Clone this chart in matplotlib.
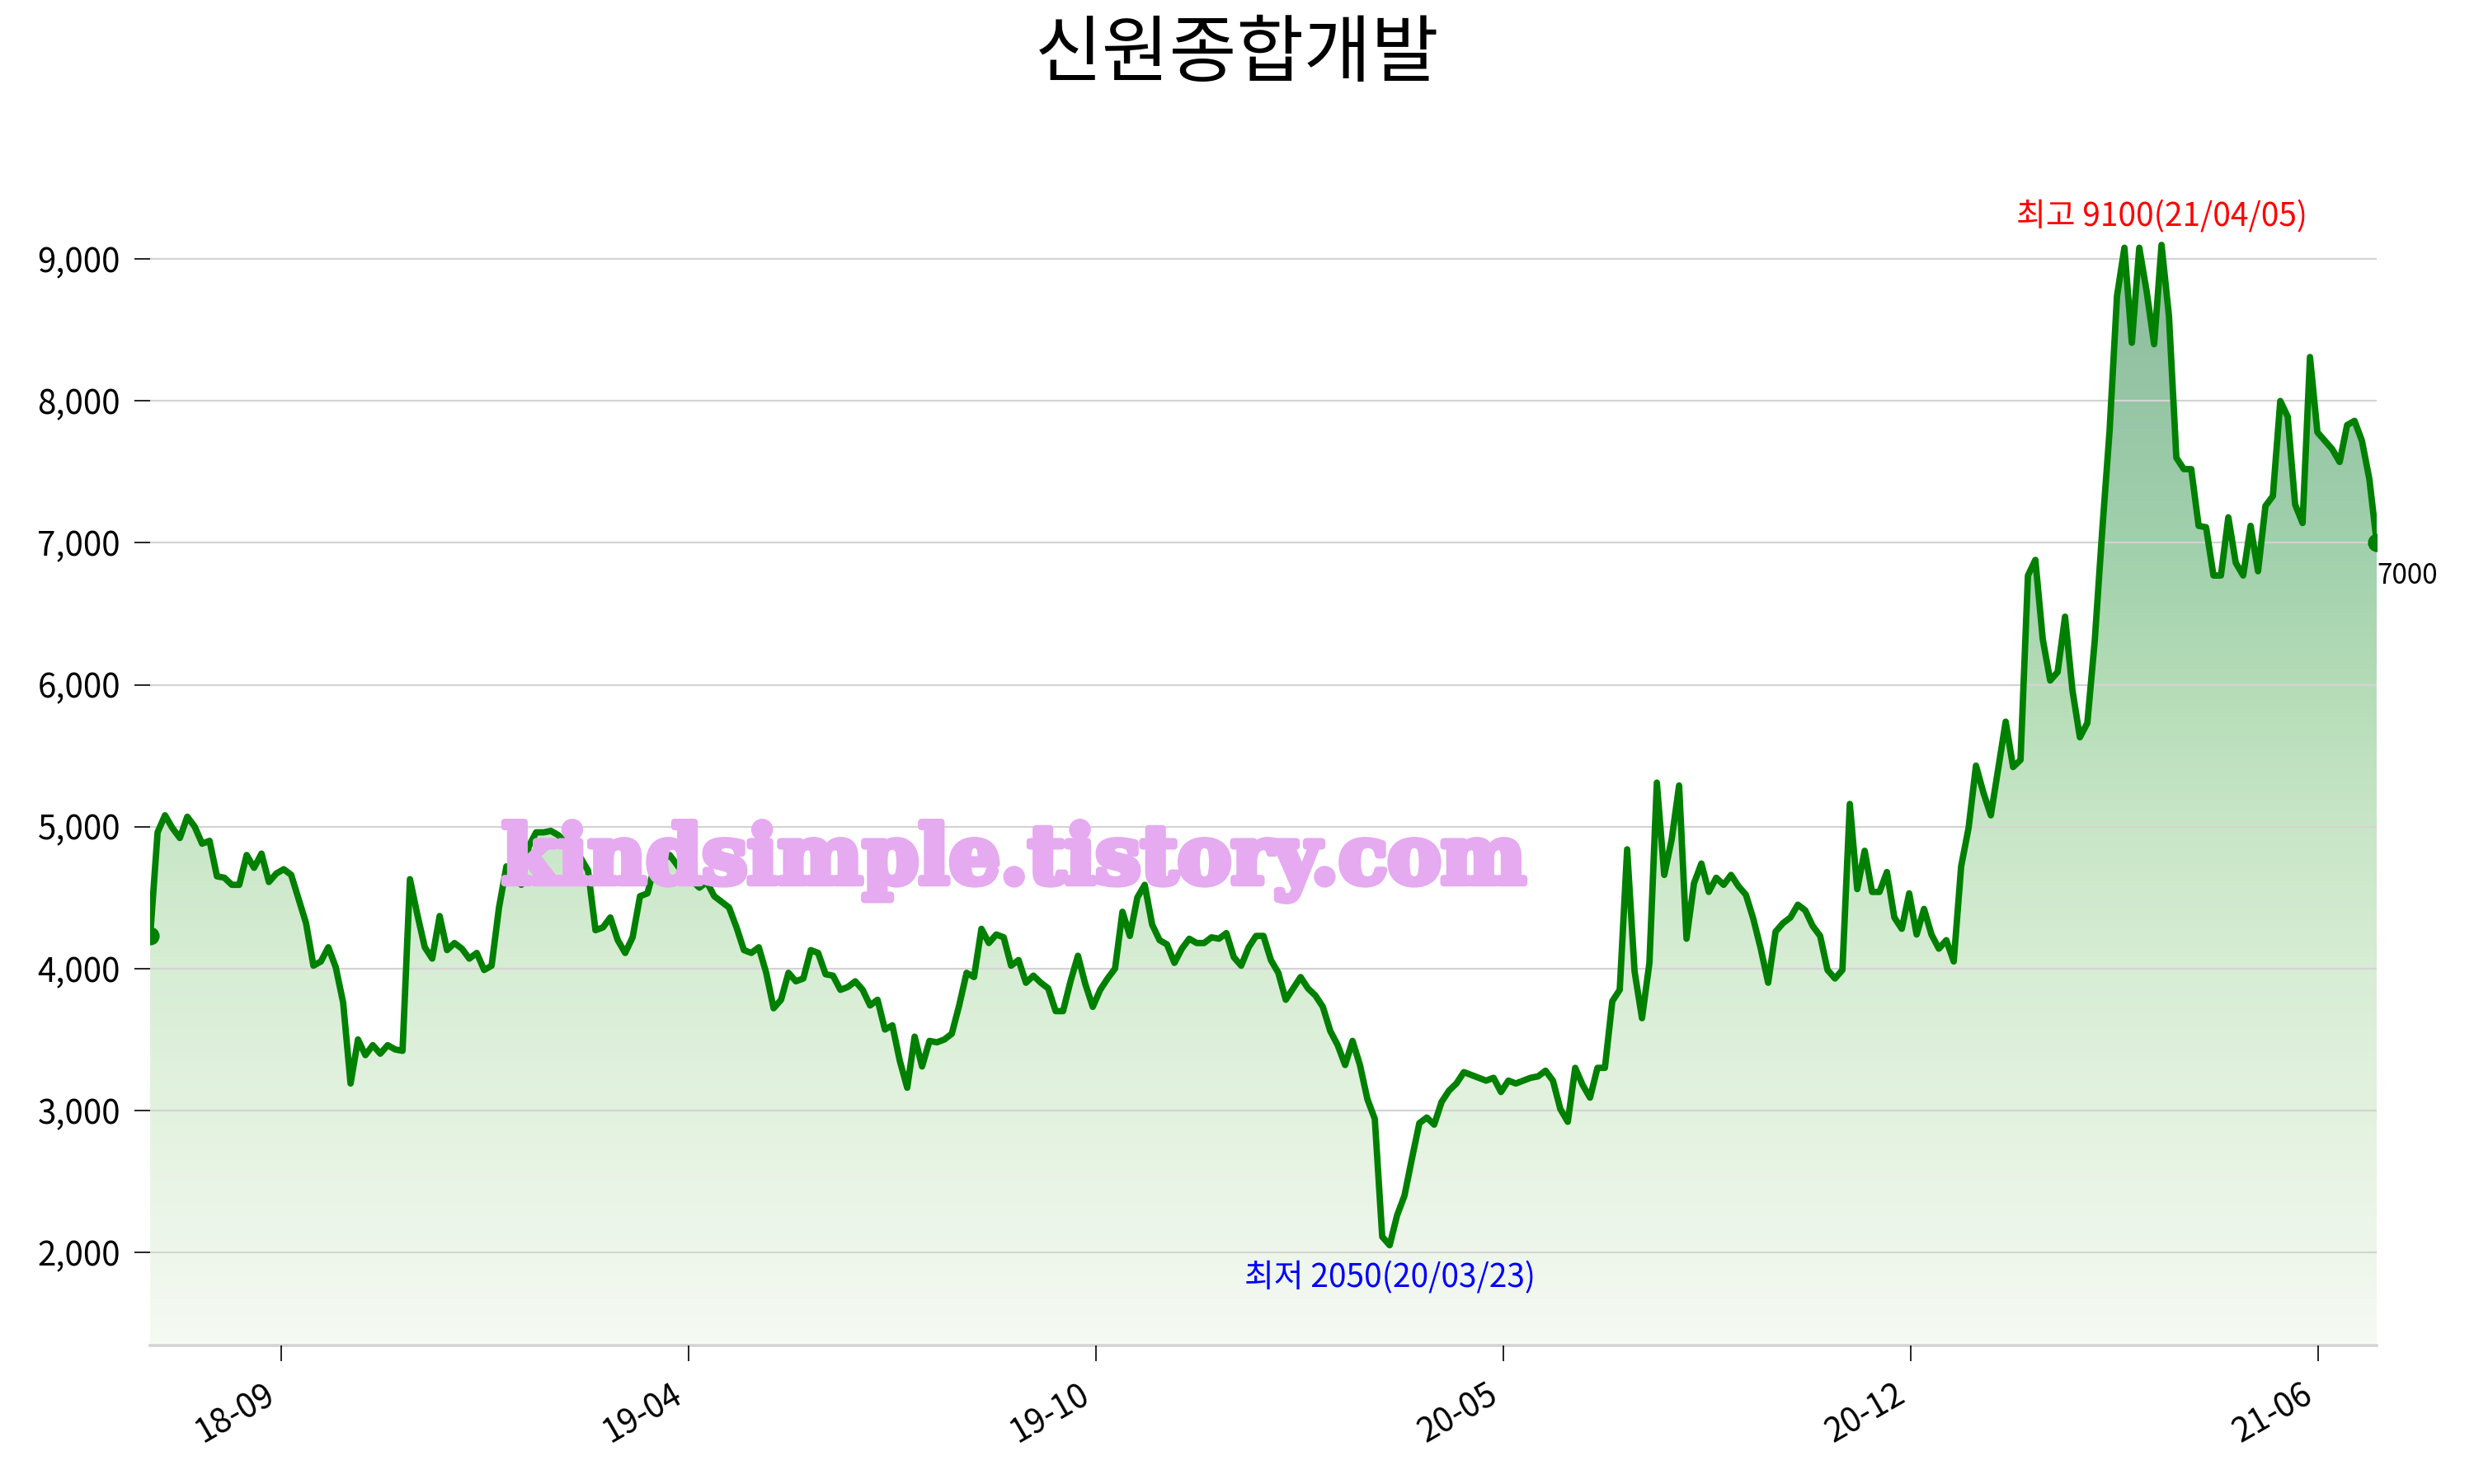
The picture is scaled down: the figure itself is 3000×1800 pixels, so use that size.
import numpy as np
import matplotlib
matplotlib.use('Agg')
import matplotlib.pyplot as plt
import matplotlib.patheffects as pe
from matplotlib.colors import LinearSegmentedColormap
from matplotlib.ticker import FuncFormatter

plt.rcParams['font.family'] = ['Noto Sans CJK KR', 'DejaVu Sans']

# chart data (roughly every second trading day)
title = '신원종합개발'
prices = [
    4230, 4960, 5080, 4990, 4920, 5070, 5000, 4880, 4900, 4650,
    4640, 4590, 4590, 4800, 4710, 4810, 4610, 4670, 4700, 4660,
    4490, 4320, 4020, 4050, 4150, 4010, 3760, 3190, 3500, 3390,
    3460, 3400, 3460, 3430, 3420, 4630, 4380, 4150, 4070, 4370,
    4130, 4180, 4140, 4070, 4110, 3990, 4020, 4430, 4720, 4650,
    4590, 4860, 4960, 4960, 4970, 4940, 4890, 4840, 4780, 4690,
    4270, 4290, 4360, 4200, 4110, 4220, 4510, 4530, 4730, 4760,
    4800, 4730, 4650, 4620, 4570, 4610, 4510, 4470, 4430, 4290,
    4130, 4110, 4150, 3970, 3720, 3780, 3970, 3910, 3930, 4130,
    4110, 3960, 3950, 3850, 3870, 3910, 3850, 3740, 3780, 3570,
    3600, 3350, 3160, 3520, 3310, 3490, 3480, 3500, 3540, 3740,
    3970, 3940, 4280, 4180, 4240, 4220, 4020, 4060, 3900, 3950,
    3900, 3860, 3700, 3700, 3910, 4090, 3890, 3730, 3850, 3930,
    4000, 4400, 4230, 4500, 4590, 4310, 4200, 4170, 4040, 4140,
    4210, 4180, 4180, 4220, 4210, 4250, 4080, 4020, 4150, 4230,
    4230, 4060, 3970, 3780, 3860, 3940, 3860, 3810, 3730, 3560,
    3460, 3320, 3490, 3320, 3080, 2940, 2110, 2050, 2260, 2400,
    2660, 2910, 2950, 2900, 3060, 3140, 3190, 3270, 3250, 3230,
    3210, 3230, 3130, 3210, 3190, 3210, 3230, 3240, 3280, 3210,
    3010, 2920, 3300, 3180, 3090, 3300, 3300, 3770, 3850, 4840,
    3980, 3650, 4040, 5310, 4660, 4910, 5290, 4210, 4600, 4740,
    4540, 4640, 4590, 4660, 4580, 4520, 4350, 4140, 3900, 4260,
    4320, 4360, 4450, 4410, 4300, 4230, 3990, 3930, 3990, 5160,
    4560, 4830, 4540, 4540, 4680, 4360, 4280, 4530, 4240, 4420,
    4240, 4140, 4200, 4050, 4720, 4990, 5430, 5240, 5080, 5410,
    5740, 5420, 5470, 6770, 6880, 6320, 6030, 6090, 6480, 5960,
    5630, 5730, 6310, 7080, 7790, 8740, 9080, 8410, 9080, 8770,
    8400, 9100, 8600, 7600, 7520, 7520, 7120, 7110, 6770, 6770,
    7180, 6860, 6770, 7120, 6800, 7260, 7330, 8000, 7890, 7270,
    7140, 8310, 7780, 7720, 7660, 7570, 7830, 7860, 7720, 7450,
    7000,
]
tick_labels = ['18-09', '19-04', '19-10', '20-05', '20-12', '21-06']
y_ticks = [2000, 3000, 4000, 5000, 6000, 7000, 8000, 9000]
high_date = '21/04/05'
low_date = '20/03/23'
watermark = 'kindsimple.tistory.com'

x = np.arange(len(prices))
y = np.array(prices, dtype=float)
ylo, yhi = 1343, 9800

fig = plt.figure(figsize=(15, 9), dpi=200)
ax = fig.add_axes([0.0607, 0.0933, 0.9, 0.8086])

# gradient fill under the line
stops = [(1343, '#f5faf3'), (2000, '#eef6eb'), (3000, '#e3f2df'), (4000, '#d7edd4'),
         (5000, '#c8e6c7'), (6000, '#b4dcb6'), (7000, '#a0d0ac'), (8000, '#96c6a5'),
         (9100, '#8cbc9e')]
top = y.max()
cmap = LinearSegmentedColormap.from_list(
    'fillgrad', [((v - ylo) / (top - ylo), c) for v, c in stops])
poly = ax.fill_between(x, y, ylo, color='none', lw=0)
grad = np.linspace(0, 1, 512).reshape(-1, 1)
im = ax.imshow(grad, extent=[x[0], x[-1], ylo, top], origin='lower',
               cmap=cmap, aspect='auto', zorder=1)
im.set_clip_path(poly.get_paths()[0], transform=ax.transData)

ax.plot(x, y, color='green', lw=2.8, zorder=3, solid_joinstyle='round')
ax.plot([x[0], x[-1]], [y[0], y[-1]], 'o', color='green', ms=7, zorder=3)

ax.set_xlim(x[0], x[-1])
ax.set_ylim(ylo, yhi)

ax.set_yticks(y_ticks)
ax.yaxis.set_major_formatter(FuncFormatter(lambda v, p: f'{v:,.0f}'))
ax.yaxis.grid(True, color='#d3d3d3', lw=0.8, zorder=2)
ax.set_axisbelow(False)

tick_pos = 17.6 + 54.9 * np.arange(len(tick_labels))
ax.set_xticks(tick_pos, tick_labels, rotation=30, ha='right')
ax.tick_params(axis='both', length=7, width=0.6, color='black', labelsize=14.5)
ax.tick_params(axis='y', pad=6)
ax.tick_params(axis='x', pad=7)

for s in ['left', 'top', 'right']:
    ax.spines[s].set_visible(False)
ax.spines['bottom'].set_color('#d3d3d3')
ax.spines['bottom'].set_linewidth(1.3)

imax = int(np.argmax(y))
imin = int(np.argmin(y))
ax.annotate(f'최고 {y[imax]:.0f}({high_date})', (x[imax], y[imax]), xytext=(0, 5),
            textcoords='offset points', ha='center', va='bottom', color='red', fontsize=14)
ax.annotate(f'최저 {y[imin]:.0f}({low_date})', (x[imin], y[imin]), xytext=(0, -7),
            textcoords='offset points', ha='center', va='top', color='blue', fontsize=14)
ax.annotate(f'{y[-1]:.0f}', (x[-1], y[-1]), xytext=(0, -8), textcoords='offset points',
            ha='left', va='top', color='black', fontsize=12, annotation_clip=False)

fig.text(0.5, 1 - 67 / 1800, title, ha='center', va='center', fontsize=32)
fig.text(0.41, 0.4194, watermark, ha='center', va='center', fontsize=35,
         family='DejaVu Serif', weight='bold', color='#e5aaf0', zorder=10,
         path_effects=[pe.withStroke(linewidth=3, foreground='#e5aaf0')])

fig.savefig('out.png', dpi=200)
